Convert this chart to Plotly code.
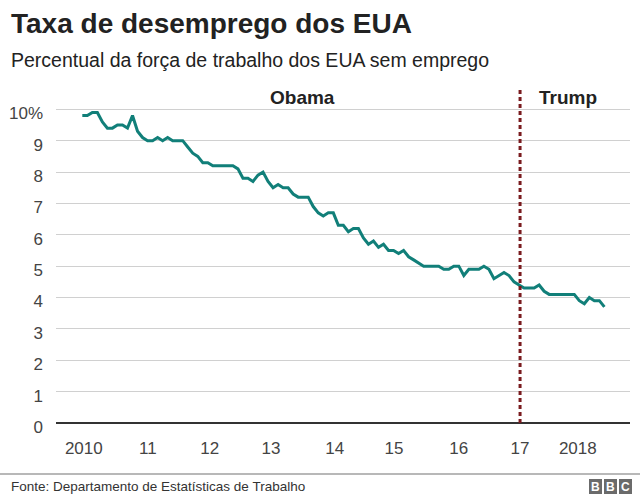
import plotly.graph_objects as go

# ---------------- data ----------------
RATE_2010 = [9.8, 9.8, 9.9, 9.9, 9.6, 9.4, 9.4, 9.5, 9.5, 9.4, 9.8, 9.3]
RATE_2011 = [9.1, 9.0, 9.0, 9.1, 9.0, 9.1, 9.0, 9.0, 9.0, 8.8, 8.6, 8.5]
RATE_2012 = [8.3, 8.3, 8.2, 8.2, 8.2, 8.2, 8.2, 8.1, 7.8, 7.8, 7.7, 7.9]
RATE_2013 = [8.0, 7.7, 7.5, 7.6, 7.5, 7.5, 7.3, 7.2, 7.2, 7.2, 6.9, 6.7]
RATE_2014 = [6.6, 6.7, 6.7, 6.3, 6.3, 6.1, 6.2, 6.2, 5.9, 5.7, 5.8, 5.6]
RATE_2015 = [5.7, 5.5, 5.5, 5.4, 5.5, 5.3, 5.2, 5.1, 5.0, 5.0, 5.0, 5.0]
RATE_2016 = [4.9, 4.9, 5.0, 5.0, 4.7, 4.9, 4.9, 4.9, 5.0, 4.9, 4.6, 4.7]
RATE_2017 = [4.8, 4.7, 4.5, 4.4, 4.3, 4.3, 4.3, 4.4, 4.2, 4.1, 4.1, 4.1]
RATE_2018 = [4.1, 4.1, 4.1, 3.9, 3.8, 4.0, 3.9, 3.9, 3.7]

# x tick labels and their positions (in months since Jan 2010, as drawn)
X_TICK_LABELS = ["2010", "11", "12", "13", "14", "15", "16", "17", "2018"]
X_TICK_POS = [0.3, 13.05, 25.4, 37.6, 50.3, 62.1, 75.0, 87.2, 98.7]
Y_TICKS = [0, 1, 2, 3, 4, 5, 6, 7, 8, 9, 10]
Y_TICK_LABELS = ["0", "1", "2", "3", "4", "5", "6", "7", "8", "9", "10%"]
TRUMP_START = 87.2  # dotted divider position (months since Jan 2010)

TITLE = "Taxa de desemprego dos EUA"
SUBTITLE = "Percentual da força de trabalho dos EUA sem emprego"
SOURCE = "Fonte: Departamento de Estatísticas de Trabalho"

rates = (RATE_2010 + RATE_2011 + RATE_2012 + RATE_2013 + RATE_2014 +
         RATE_2015 + RATE_2016 + RATE_2017 + RATE_2018)
months = list(range(len(rates)))

# ---------------- layout helpers ----------------
W, H = 640, 498
L, R, T, B = 56, 10, 95, 75
PW, PH = W - L - R, H - T - B


def px(xpix):
    return (xpix - L) / PW


def py(ypix):
    return (H - B - ypix) / PH


FONT = "Liberation Sans, Arial, Helvetica, sans-serif"
TEAL = "#117f79"
MAROON = "#7a1b1f"

fig = go.Figure()
fig.add_trace(go.Scatter(
    x=months, y=rates, mode="lines",
    line=dict(color=TEAL, width=3, shape="linear"),
    hoverinfo="skip", showlegend=False,
))

fig.update_layout(
    width=W, height=H,
    margin=dict(l=L, r=R, t=T, b=B),
    paper_bgcolor="white", plot_bgcolor="white",
    font=dict(family=FONT, color="#333333"),
    xaxis=dict(
        range=[-5.24, 109.1], showgrid=False, zeroline=False,
        tickmode="array", tickvals=X_TICK_POS, ticktext=X_TICK_LABELS,
        ticks="", tickfont=dict(size=17, color="#444444"),
        ticklabelstandoff=13, showline=False, fixedrange=True,
    ),
    yaxis=dict(
        range=[0, 10.456], showgrid=True, gridcolor="#d0d0d0", gridwidth=1,
        zeroline=True, zerolinecolor="#333333", zerolinewidth=2,
        tickmode="array", tickvals=Y_TICKS, ticktext=Y_TICK_LABELS,
        ticks="", tickfont=dict(size=17, color="#444444"),
        ticklabelstandoff=12, ticklabelshift=4, showline=False, fixedrange=True,
    ),
    shapes=[
        dict(type="line", xref="x", yref="paper", x0=TRUMP_START, x1=TRUMP_START,
             y0=0, y1=py(89), line=dict(color=MAROON, width=3, dash="4px,3px")),
        dict(type="line", xref="paper", yref="paper", x0=px(0), x1=px(W),
             y0=py(474), y1=py(474), line=dict(color="#a0a0a0", width=1.5)),
        dict(type="rect", xref="paper", yref="paper", x0=px(589), x1=px(602),
             y0=py(494), y1=py(479), fillcolor="#6b6b6b", line=dict(width=0)),
        dict(type="rect", xref="paper", yref="paper", x0=px(604), x1=px(617),
             y0=py(494), y1=py(479), fillcolor="#6b6b6b", line=dict(width=0)),
        dict(type="rect", xref="paper", yref="paper", x0=px(619), x1=px(632),
             y0=py(494), y1=py(479), fillcolor="#6b6b6b", line=dict(width=0)),
    ],
    annotations=[
        dict(text="<b>" + TITLE + "</b>", xref="paper", yref="paper",
             x=px(9), y=py(23), xanchor="left", yanchor="middle", showarrow=False,
             font=dict(size=28, color="#222222", family=FONT)),
        dict(text=SUBTITLE, xref="paper", yref="paper",
             x=px(9), y=py(60), xanchor="left", yanchor="middle", showarrow=False,
             font=dict(size=19.5, color="#222222", family=FONT)),
        dict(text="<b>Obama</b>", xref="paper", yref="paper",
             x=px(302), y=py(97), xanchor="center", yanchor="middle", showarrow=False,
             font=dict(size=19, color="#222222", family=FONT)),
        dict(text="<b>Trump</b>", xref="paper", yref="paper",
             x=px(568), y=py(97), xanchor="center", yanchor="middle", showarrow=False,
             font=dict(size=19, color="#222222", family=FONT)),
        dict(text=SOURCE, xref="paper", yref="paper",
             x=px(9), y=py(486), xanchor="left", yanchor="middle", showarrow=False,
             font=dict(size=13.5, color="#333333", family=FONT)),
        dict(text="<b>B</b>", xref="paper", yref="paper", x=px(595.5), y=py(486.5),
             xanchor="center", yanchor="middle", showarrow=False,
             font=dict(size=12, color="white", family=FONT)),
        dict(text="<b>B</b>", xref="paper", yref="paper", x=px(610.5), y=py(486.5),
             xanchor="center", yanchor="middle", showarrow=False,
             font=dict(size=12, color="white", family=FONT)),
        dict(text="<b>C</b>", xref="paper", yref="paper", x=px(625.5), y=py(486.5),
             xanchor="center", yanchor="middle", showarrow=False,
             font=dict(size=12, color="white", family=FONT)),
    ],
)

# the page's default body margin would shift the figure by 8px; remove it
fig.write_html(
    "out.html",
    config={"displayModeBar": False, "staticPlot": True},
    post_script="document.body.style.margin='0';document.body.style.overflow='hidden';",
)
